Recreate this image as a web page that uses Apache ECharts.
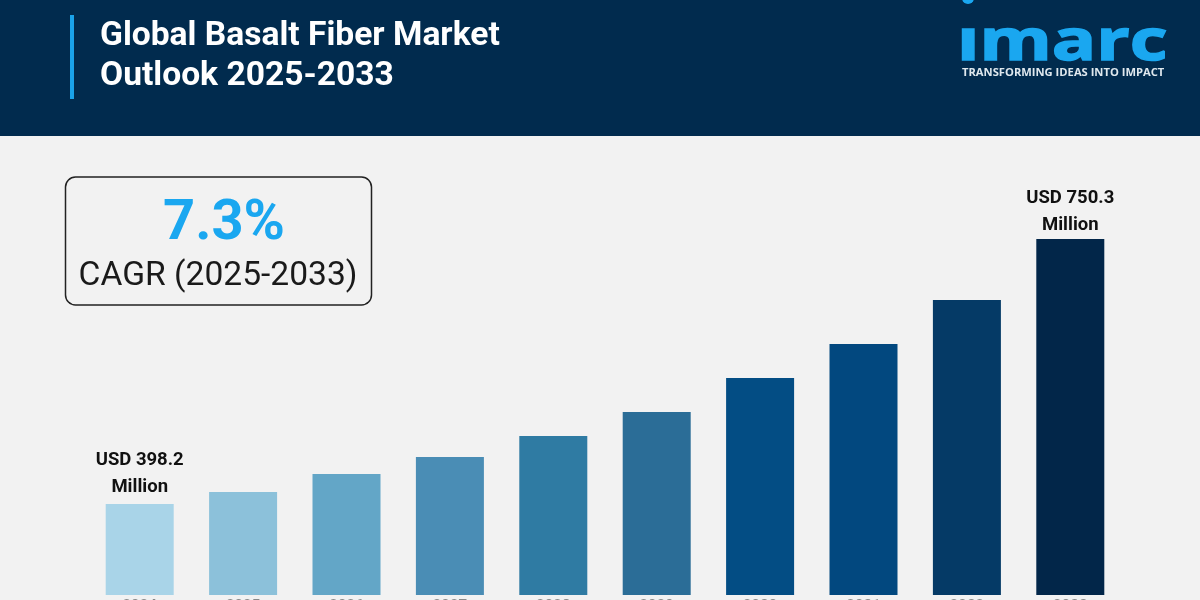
<!DOCTYPE html>
<html><head><meta charset="utf-8">
<style>html,body{margin:0;padding:0;background:#f2f2f2}#c{width:1200px;height:600px}</style>
<script src="https://cdn.jsdelivr.net/npm/echarts@6/dist/echarts.min.js"></script>
</head><body><div id="c"></div>
<script>
const years = ['2024','2025','2026','2027','2028','2029','2030','2031','2032','2033'];
const values = [398.2,414.1,438,460.6,488.5,520.4,565.6,610.8,669.2,750.3];
const barColors = ['#a9d4e8','#8cc1da','#63a6c7','#4a8db5','#2f7ba3','#2b6d97','#034d84','#02487f','#053a66','#022649'];
const endLabels = {0:'USD 398.2\nMillion',9:'USD 750.3\nMillion'};
const titleLines = 'Global Basalt Fiber Market\nOutlook 2025-2033';
const cagrValue = '7.3%';
const cagrText = 'CAGR (2025-2033)';
const brand = 'ımarc';
const tagline = 'TRANSFORMING IDEAS INTO IMPACT';

const chart = echarts.init(document.getElementById('c'), null, {renderer:'canvas'});
chart.setOption({
  animation:false,
  backgroundColor:'#f2f2f2',
  grid:{left:88,right:78,top:239,bottom:5,containLabel:false,outerBoundsMode:'none'},
  xAxis:{type:'category',data:years,axisLine:{show:false},axisTick:{show:false},
    axisLabel:{show:true,margin:4,color:'#888',fontFamily:'Roboto',fontSize:15,fontWeight:'bold',interval:0,hideOverlap:false}},
  yAxis:{type:'value',min:277.3,max:750.3,show:false,splitLine:{show:false}},
  series:[{type:'bar',barWidth:68,
    data:values.map((v,i)=>({value:v,itemStyle:{color:barColors[i]},
      label:{show:i in endLabels,position:'top',distance:i===0?3:0,formatter:endLabels[i]||'',
        color:'#111',fontFamily:'Roboto',fontWeight:'bold',fontSize:18.5,lineHeight:27}}))}],
  graphic:[
    {type:'rect',z:0,silent:true,shape:{x:0,y:0,width:1200,height:136},style:{fill:'#012b4e'}},
    {type:'rect',z:1,silent:true,shape:{x:70,y:15,width:4,height:84},style:{fill:'#1aa3ea'}},
    {type:'text',z:1,silent:true,x:100,y:17,style:{text:titleLines,fill:'#fff',font:'bold 33.6px Roboto',lineHeight:40}},
    {type:'circle',z:1,silent:true,shape:{cx:968,cy:-2,r:6},style:{fill:'#1aa7f0'}},
    {type:'text',z:1,silent:true,x:957,y:14,scaleX:1.27,style:{text:brand,fill:'#1aa7f0',stroke:'#1aa7f0',lineWidth:1.5,font:'bold 58px "Open Sans"'}},
    {type:'text',z:1,silent:true,x:962,y:67,style:{text:tagline,fill:'#dfe8ee',font:'bold 11.2px "Open Sans"'}},
    {type:'rect',z:1,silent:true,shape:{x:65.5,y:177,width:306,height:128,r:10},style:{fill:'#f2f2f2',stroke:'#222',lineWidth:1.5}},
    {type:'text',z:2,silent:true,x:224,y:197,style:{text:cagrValue,fill:'#1aa7f0',font:'bold 56px Roboto',align:'center'}},
    {type:'text',z:2,silent:true,x:218,y:260,style:{text:cagrText,fill:'#1a1a1a',font:'33.6px Roboto',align:'center'}}
  ]
});
</script></body></html>
